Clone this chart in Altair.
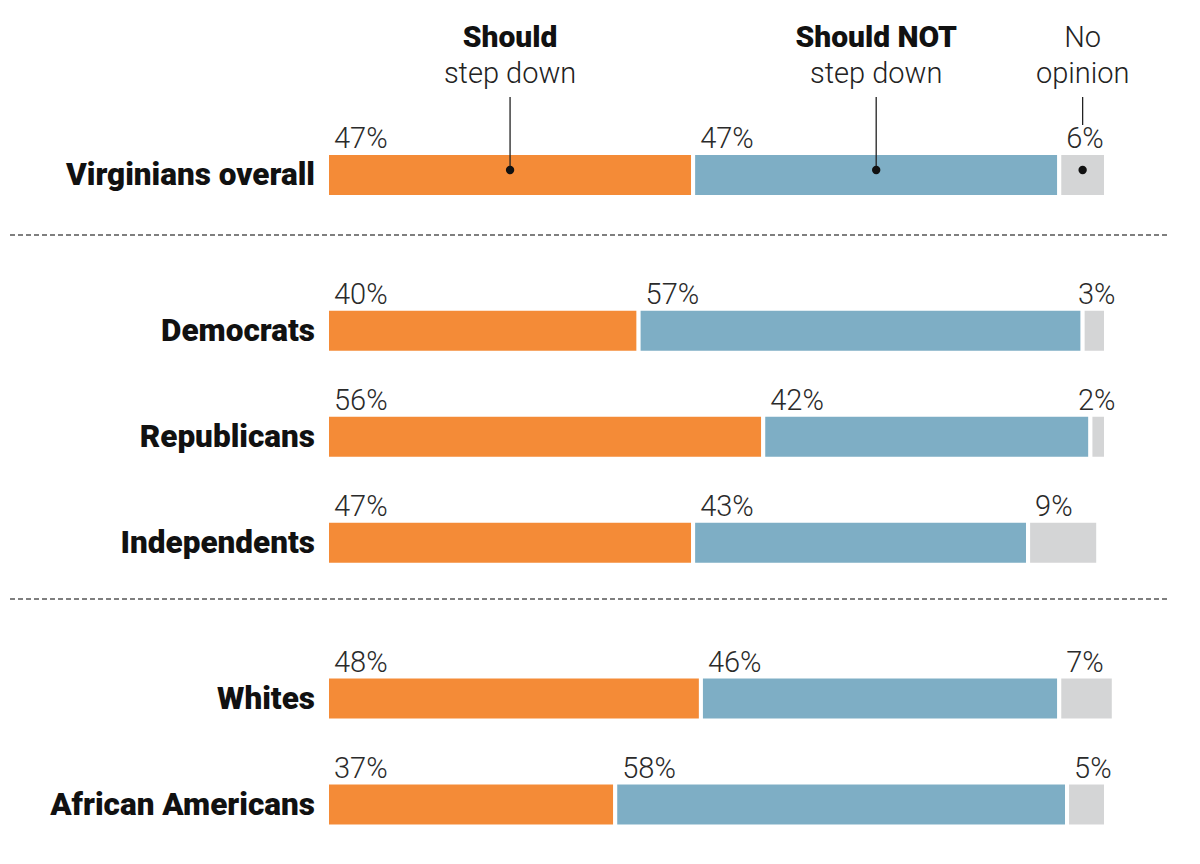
import altair as alt
import pandas as pd

groups = ["Virginians overall", "Democrats", "Republicans", "Independents", "Whites", "African Americans"]
section = [0, 1, 1, 1, 2, 2]
should = [47, 40, 56, 47, 48, 37]
should_not = [47, 57, 42, 43, 46, 58]
no_opinion = [6, 3, 2, 9, 7, 5]
categories = ["Should", "Should NOT", "No opinion"]
colors = ["#F48B37", "#7EAEC5", "#D4D5D6"]
head_top = ["Should", "Should NOT", "No"]
head_bottom = ["step down", "step down", "opinion"]

GROUP_GAP = 0.47
rows = []
for i, g in enumerate(groups):
    pos = i + GROUP_GAP * section[i]
    start = 0
    for c, v in zip(categories, [should[i], should_not[i], no_opinion[i]]):
        rows.append({"group": g, "pos": pos, "cat": c, "value": v,
                     "start": start, "end": start + v, "label": f"{v}%", "row": i})
        start += v
df = pd.DataFrame(rows)

head = df[df.row == 0].copy().reset_index(drop=True)
head["mid"] = (head["start"] + head["end"]) / 2
head["top"] = head_top
head["bottom"] = head_bottom

labels_df = pd.DataFrame({"group": groups, "pos": [i + GROUP_GAP * s for i, s in enumerate(section)]})

yscale = alt.Scale(domain=[-1.575, 6.425], reverse=True, nice=False, zero=False, padding=0)
xscale = alt.Scale(domain=[0, 100], nice=False, zero=True)
FONT = "Roboto"

base = alt.Chart(df)

bars = base.mark_bar(size=44, stroke="white", strokeWidth=4).encode(
    x=alt.X("start:Q", scale=xscale, axis=None),
    x2="end:Q",
    y=alt.Y("pos:Q", scale=yscale, axis=None),
    color=alt.Color("cat:N", scale=alt.Scale(domain=categories, range=colors), legend=None),
)

pct = base.transform_calculate(
    lx="datum.cat == 'No opinion' ? min(datum.start, 95.5) : datum.start"
).mark_text(align="left", baseline="alphabetic", dx=7, dy=-27, font=FONT,
            fontSize=29, fontWeight=300, color="#2a2a2a").encode(
    x=alt.X("lx:Q", scale=xscale, axis=None),
    y=alt.Y("pos:Q", scale=yscale, axis=None),
    text="label:N",
)

rowlab = alt.Chart(labels_df).mark_text(align="right", baseline="middle", dy=1, font=FONT,
                                        fontSize=31.5, fontWeight=900, color="#111111").encode(
    x=alt.value(-12),
    y=alt.Y("pos:Q", scale=yscale, axis=None),
    text="group:N",
)

hbase = alt.Chart(head)
htop_bold = hbase.transform_filter("datum.cat != 'No opinion'").mark_text(
    align="center", baseline="alphabetic", font=FONT, fontSize=30, fontWeight=900, color="#111111"
).encode(x=alt.X("mid:Q", scale=xscale, axis=None), y=alt.value(39), text="top:N")
htop_norm = hbase.transform_filter("datum.cat == 'No opinion'").mark_text(
    align="center", baseline="alphabetic", font=FONT, fontSize=29, fontWeight=300, color="#222222"
).encode(x=alt.X("mid:Q", scale=xscale, axis=None), y=alt.value(39), text="top:N")
hbot = hbase.mark_text(
    align="center", baseline="alphabetic", font=FONT, fontSize=29, fontWeight=300, color="#222222"
).encode(x=alt.X("mid:Q", scale=xscale, axis=None), y=alt.value(75), text="bottom:N")

lead_long = hbase.transform_filter("datum.cat != 'No opinion'").mark_rule(color="#222222", strokeWidth=1.3).encode(
    x=alt.X("mid:Q", scale=xscale, axis=None), y=alt.value(89), y2=alt.value(162))
lead_short = hbase.transform_filter("datum.cat == 'No opinion'").mark_rule(color="#222222", strokeWidth=1.3).encode(
    x=alt.X("mid:Q", scale=xscale, axis=None), y=alt.value(89), y2=alt.value(117))
dots = hbase.mark_point(filled=True, size=70, color="#111111", opacity=1).encode(
    x=alt.X("mid:Q", scale=xscale, axis=None), y=alt.value(162))

sep1 = alt.Chart(pd.DataFrame({"k": [0]})).mark_rule(
    color="#555555", strokeDash=[5, 3], strokeWidth=1.4
).encode(x=alt.value(-317), x2=alt.value(843), y=alt.value(227))
sep2 = alt.Chart(pd.DataFrame({"k": [1]})).mark_rule(
    color="#555555", strokeDash=[5, 3], strokeWidth=1.4
).encode(x=alt.value(-317), x2=alt.value(843), y=alt.value(591))

chart = alt.layer(sep1, sep2, bars, pct, rowlab, htop_bold, htop_norm, hbot, lead_long, lead_short, dots).properties(
    width=779, height=848,
    autosize=alt.AutoSizeParams(type="none"),
    padding={"left": 319, "top": 0, "right": 70, "bottom": 0},
    background="white",
).configure_view(stroke=None)

chart.save("out.html", embed_options={"renderer": "svg", "actions": False})
